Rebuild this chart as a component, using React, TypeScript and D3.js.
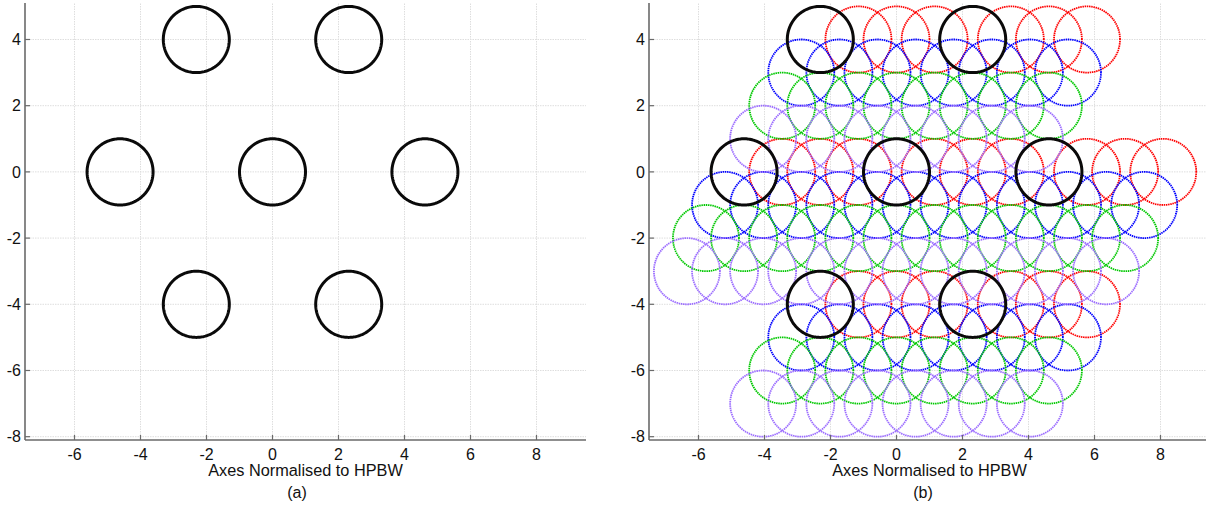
import React from "react";
import * as d3 from "d3";

// Seven-beam hexagonal cluster, positions in HPBW units
const beamX = [0, 4.619, 2.309, -2.309, -4.619, -2.309, 2.309];
const beamY = [0, 0, 4, 4, 0, -4, -4];

// Sub-pointing offsets used to fill the gaps between beams (panel b)
const colOffsets = [0, 1.155, 2.309, 3.464];
const rowDx = [0, -0.577, -1.155, -1.732];
const rowDy = [0, -1, -2, -3];
const rowColors = ["#ff0000", "#0000ff", "#00c800", "#9b6cff"];

// Axis ticks
const xTicks = [-6, -4, -2, 0, 2, 4, 6, 8];
const yTicks = [-8, -6, -4, -2, 0, 2, 4];
const xDomain = [-7.5, 9.5];
const yDomain = [-8.1, 5.1];

const beamRadius = 1;
const FONT = "'Liberation Sans', Arial, Helvetica, sans-serif";

const W = 1206;
const H = 513;

type PanelProps = {
  left: number;
  showPointings: boolean;
  caption: string;
  captionX: number;
};

function circlePath(
  cx: number,
  cy: number,
  r: number,
  x: d3.ScaleLinear<number, number>,
  y: d3.ScaleLinear<number, number>
) {
  const pts = d3.range(0, 181).map((i) => {
    const t = (i / 180) * Math.PI * 2;
    return [cx + r * Math.cos(t), cy + r * Math.sin(t)] as [number, number];
  });
  const line = d3
    .line<[number, number]>()
    .x((d) => x(d[0]))
    .y((d) => y(d[1]));
  return line(pts) + "Z";
}

function Panel({ left, showPointings, caption, captionX }: PanelProps) {
  const x0 = left;
  const x1 = left + 561;
  const yBottom = 440;
  const yTop = yBottom - 13.2 * 33.1;
  const x = d3.scaleLinear().domain(xDomain).range([x0, x1]);
  const y = d3.scaleLinear().domain(yDomain).range([yBottom, yTop]);

  const pointings: { cx: number; cy: number; color: string; key: string }[] = [];
  if (showPointings) {
    rowDy.forEach((dy, j) => {
      beamX.forEach((bx, b) => {
        colOffsets.forEach((dx, k) => {
          pointings.push({
            cx: bx + dx + rowDx[j],
            cy: beamY[b] + dy,
            color: rowColors[j],
            key: `${j}-${b}-${k}`,
          });
        });
      });
    });
  }

  return (
    <g>
      {/* grid */}
      {xTicks.map((t) => (
        <line
          key={"gx" + t}
          x1={x(t)}
          x2={x(t)}
          y1={yBottom}
          y2={yTop}
          stroke="#dedede"
          strokeWidth={1}
          strokeDasharray="1.5 1"
        />
      ))}
      {yTicks.map((t) => (
        <line
          key={"gy" + t}
          x1={x0}
          x2={x1}
          y1={y(t)}
          y2={y(t)}
          stroke="#dedede"
          strokeWidth={1}
          strokeDasharray="1.5 1"
        />
      ))}

      {/* sub-pointings */}
      {pointings.map((p) => (
        <path
          key={p.key}
          d={circlePath(p.cx, p.cy, beamRadius, x, y)}
          fill="none"
          stroke={p.color}
          strokeWidth={1.8}
          strokeDasharray="1.5 0.7"
        />
      ))}

      {/* main beams */}
      {beamX.map((bx, i) => (
        <path
          key={"b" + i}
          d={circlePath(bx, beamY[i], beamRadius, x, y)}
          fill="none"
          stroke="#0a0a0a"
          strokeWidth={3}
        />
      ))}

      {/* axes */}
      <line x1={x0} x2={x1} y1={yBottom} y2={yBottom} stroke="#6a6a6a" strokeWidth={1.6} />
      <line x1={x0} x2={x0} y1={yBottom} y2={yTop} stroke="#6a6a6a" strokeWidth={1.6} />
      {xTicks.map((t) => (
        <g key={"xt" + t}>
          <line x1={x(t)} x2={x(t)} y1={yBottom} y2={yBottom - 5} stroke="#6a6a6a" strokeWidth={1.2} />
          <text
            x={x(t)}
            y={460}
            textAnchor="middle"
            fontFamily={FONT}
            fontSize={16}
            fill="#111"
          >
            {t}
          </text>
        </g>
      ))}
      {yTicks.map((t) => (
        <g key={"yt" + t}>
          <line x1={x0} x2={x0 + 5} y1={y(t)} y2={y(t)} stroke="#6a6a6a" strokeWidth={1.2} />
          <text
            x={x0 - 4}
            y={y(t)}
            dy="0.36em"
            textAnchor="end"
            fontFamily={FONT}
            fontSize={16}
            fill="#111"
          >
            {t}
          </text>
        </g>
      ))}
      <text
        x={(x0 + x1) / 2}
        y={476}
        textAnchor="middle"
        fontFamily={FONT}
        fontSize={16.3}
        fill="#111"
      >
        Axes Normalised to HPBW
      </text>
      <text
        x={captionX}
        y={498}
        textAnchor="middle"
        fontFamily={FONT}
        fontSize={16}
        fill="#111"
      >
        {caption}
      </text>
    </g>
  );
}

export default function App() {
  return (
    <svg
      width={W}
      height={H}
      viewBox={`0 0 ${W} ${H}`}
      style={{ position: "absolute", left: 0, top: 0, display: "block", background: "#fff" }}
    >
      <rect width={W} height={H} fill="#fff" />
      <Panel left={25} showPointings={false} caption="(a)" captionX={297} />
      <Panel left={649} showPointings={true} caption="(b)" captionX={923} />
    </svg>
  );
}
